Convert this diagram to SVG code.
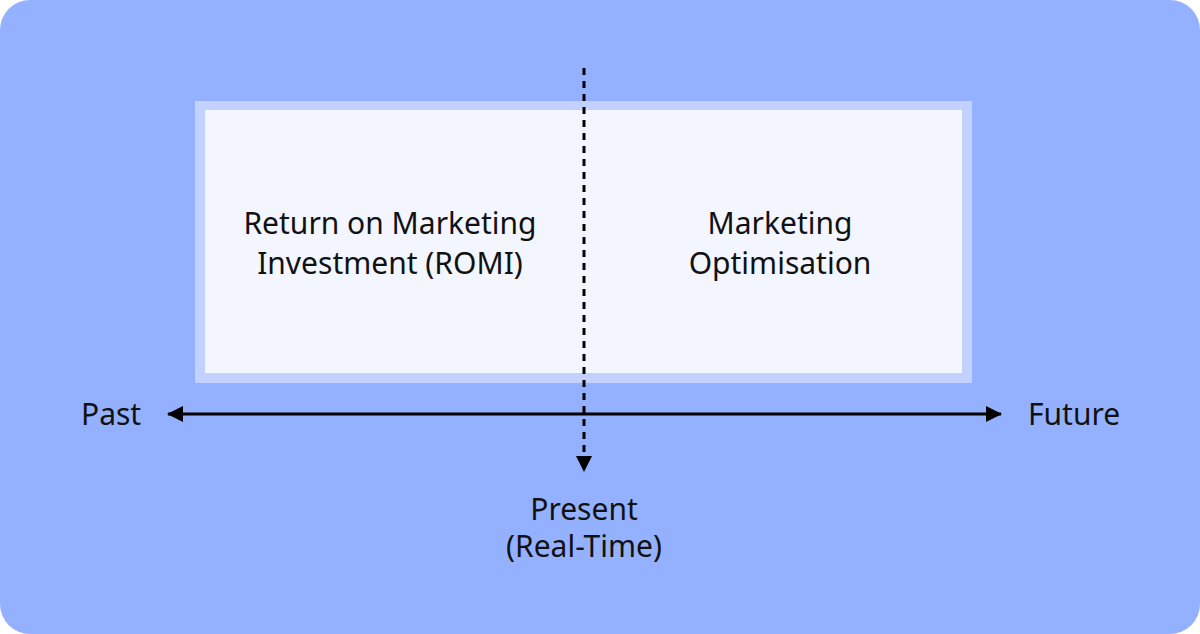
<svg xmlns="http://www.w3.org/2000/svg" width="1200" height="634" viewBox="0 0 1200 634">
<style>
text{font-family:"Noto Sans","Open Sans",sans-serif;font-size:30px;fill:#111111}
.c{text-anchor:middle}
</style>
<defs>
<marker id="ah2" viewBox="0 0 16 16" refX="15" refY="8" markerWidth="16" markerHeight="16" markerUnits="userSpaceOnUse" orient="auto-start-reverse">
<path d="M0,0 L16,8 L0,16 z" fill="#000"/>
</marker>
</defs>
<rect id="background" x="0" y="0" width="1200" height="634" rx="30" fill="#94B1FF"/>
<g id="box">
<rect x="195" y="101" width="777" height="282" fill="#C2D1FF"/>
<rect x="205" y="110" width="757" height="263" fill="#F3F6FF"/>
</g>
<g id="romi"><text class="c" x="390" y="234">Return on Marketing</text><text class="c" x="390" y="274">Investment (ROMI)</text></g>
<g id="optimisation"><text class="c" x="780" y="234">Marketing</text><text class="c" x="780" y="274">Optimisation</text></g>
<g id="past"><text x="81" y="425">Past</text></g>
<g id="future"><text x="1028" y="425">Future</text></g>
<g id="present"><text class="c" x="584" y="520">Present</text><text class="c" x="584" y="557">(Real-Time)</text></g>
<g id="connectors" stroke="#000" fill="none">
<line x1="168" y1="414" x2="1001" y2="414" stroke-width="3" marker-start="url(#ah2)" marker-end="url(#ah2)"/>
<line x1="584" y1="68" x2="584" y2="471" stroke-width="3" stroke-dasharray="7,6" marker-end="url(#ah2)"/>
</g>
</svg>
